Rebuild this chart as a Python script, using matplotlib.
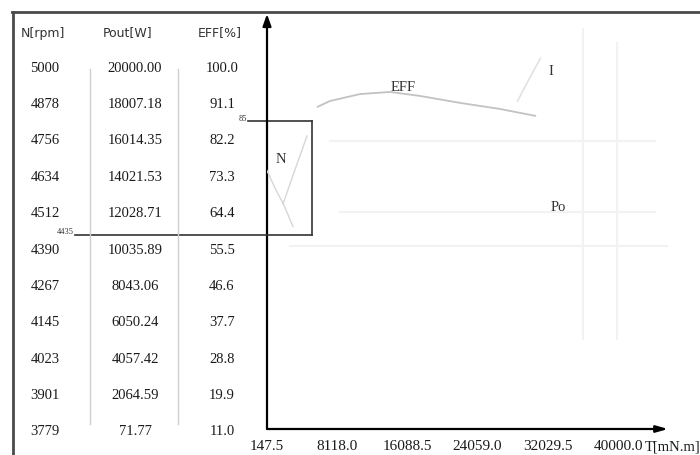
import numpy as np
import matplotlib
matplotlib.use("Agg")
import matplotlib.pyplot as plt
from matplotlib.lines import Line2D

W, H = 700, 456

# table data
headers = ["N[rpm]", "Pout[W]", "EFF[%]"]
n_rpm = [5000, 4878, 4756, 4634, 4512, 4390, 4267, 4145, 4023, 3901, 3779]
pout_w = [20000.00, 18007.18, 16014.35, 14021.53, 12028.71, 10035.89,
          8043.06, 6050.24, 4057.42, 2064.59, 71.77]
eff_pct = [100.0, 91.1, 82.2, 73.3, 64.4, 55.5, 46.6, 37.7, 28.8, 19.9, 11.0]

# chart data (torque in mN.m)
torque_ticks = [147.5, 8118.0, 16088.5, 24059.0, 32029.5, 40000.0]
eff_torque = [5900, 7300, 10700, 14100, 17500, 22000, 26600, 30600]
eff_curve = [88.9, 90.5, 92.4, 93.0, 91.9, 90.0, 88.3, 86.4]
n_torque = [147.5, 1100, 2100, 3100]
n_curve = [4651, 4590, 4533, 4462]
po_torque = [1964, 3300, 4689]
po_curve = [16265, 18700, 21181]
i_torque = [28600, 30000, 31200]
i_curve = [90.5, 97.0, 102.3]
eff_mark = 85
n_mark = 4435
op_torque = 5257

fx = lambda px: px / W
fy = lambda py: 1 - py / H

fig = plt.figure(figsize=(7, 4.56), dpi=100)
fig.patch.set_facecolor("white")

# frame
fig.add_artist(Line2D([fx(12), 1], [fy(13), fy(13)], color="#4a4a4a", lw=2))
fig.add_artist(Line2D([fx(13), fx(13)], [fy(13), 0], color="#4a4a4a", lw=2))

# table
header_x = [43, 128, 220]
col_x = [45, 135, 222]
for hx, h in zip(header_x, headers):
    fig.text(fx(hx), fy(33), h, ha="center", va="center", fontsize=9,
             family="DejaVu Sans", color="#333333")
for i in range(len(n_rpm)):
    y = fy(68 + i * 36.4)
    fig.text(fx(col_x[0]), y, f"{n_rpm[i]}", ha="center", va="center",
             fontsize=10.5, family="Liberation Serif", color="#1a1a1a")
    fig.text(fx(col_x[1]), y, f"{pout_w[i]:.2f}", ha="center", va="center",
             fontsize=10.5, family="Liberation Serif", color="#1a1a1a")
    fig.text(fx(col_x[2]), y, f"{eff_pct[i]:.1f}", ha="center", va="center",
             fontsize=10.5, family="Liberation Serif", color="#1a1a1a")
for sx in (90, 178):
    fig.add_artist(Line2D([fx(sx), fx(sx)], [fy(70), fy(425)], color="#cfcfcf", lw=1))

# chart axes
px0, px_tick_end, px_end = 267, 618, 668
t_lo, t_hi = torque_ticks[0], torque_ticks[-1]
x_max = t_lo + (t_hi - t_lo) * (px_end - px0) / (px_tick_end - px0)
ax = fig.add_axes([fx(px0), fy(430), (px_end - px0) / W, (430 - 15) / H])
ax.set_xlim(t_lo, x_max)
ax.set_ylim(0, 114.5)
for s in ax.spines.values():
    s.set_visible(False)
ax.patch.set_alpha(0)
ax.set_yticks([])
ax.set_xticks(torque_ticks, labels=[f"{t:.1f}" for t in torque_ticks])
ax.tick_params(axis="x", length=0, pad=7, labelsize=11, labelcolor="#1a1a1a")
for lab in ax.get_xticklabels():
    lab.set_family("Liberation Serif")
ax.annotate("T[mN.m]", xy=(t_hi, 0), xycoords=("data", "axes fraction"),
            xytext=(27, -17), textcoords="offset pixels", ha="left", va="center",
            fontsize=10.5, family="Liberation Serif", color="#1a1a1a",
            annotation_clip=False)

axN = ax.twinx()
axN.set_ylim(3779, 5180)
axN.axis("off")
axP = ax.twinx()
axP.set_ylim(0, 30000)
axP.axis("off")

# faint background lines
fc = "#f2f2f2"
ax.axhline(79.5, xmin=0.157, xmax=0.968, color=fc, lw=1.5)
ax.axhline(59.9, xmin=0.182, xmax=0.968, color=fc, lw=1.5)
ax.axhline(50.5, xmin=0.057, xmax=1.0, color=fc, lw=1.5)
ax.axvline(36025, ymin=0.217, ymax=0.964, color=fc, lw=1.5)
ax.axvline(39885, ymin=0.217, ymax=0.93, color=fc, lw=1.5)

# curves
ax.plot(eff_torque, eff_curve, color="#c2c2c2", lw=1.3)
ax.plot(i_torque, i_curve, color="#e2e2e2", lw=1.2)
axN.plot(n_torque, n_curve, color="#d6d6d6", lw=1.0)
axP.plot(po_torque, po_curve, color="#d6d6d6", lw=1.0)

# axes with arrows
ax.annotate("", xy=(0, 1), xytext=(0, 0), xycoords="axes fraction",
            arrowprops=dict(arrowstyle="-|>,head_length=0.7,head_width=0.25",
                            color="black", lw=1.6, shrinkA=0, shrinkB=0),
            annotation_clip=False)
ax.annotate("", xy=(1, 0), xytext=(0, 0), xycoords="axes fraction",
            arrowprops=dict(arrowstyle="-|>,head_length=0.7,head_width=0.2",
                            color="black", lw=1.6, shrinkA=0, shrinkB=0),
            annotation_clip=False)

# operating box
box_x = (op_torque - t_lo) / (x_max - t_lo)
ax.axhline(eff_mark, xmin=(248 - px0) / (px_end - px0), xmax=box_x,
           color="#333333", lw=1.2, clip_on=False)
axN.axhline(n_mark, xmin=(75 - px0) / (px_end - px0), xmax=box_x,
            color="#333333", lw=1.2, clip_on=False)
ymin_n = (n_mark - 3779) / (5180 - 3779)
ax.axvline(op_torque, ymin=ymin_n, ymax=eff_mark / 114.5, color="#333333", lw=1.2)
ax.annotate(f"{eff_mark}", xy=(0, eff_mark), xycoords=("axes fraction", "data"),
            xytext=(-20, 3), textcoords="offset pixels", ha="right", va="center",
            fontsize=6, family="Liberation Serif", color="#333333",
            annotation_clip=False)
axN.annotate(f"{n_mark}", xy=(0, n_mark), xycoords=("axes fraction", "data"),
             xytext=(75 - px0 - 1, 0), textcoords="offset pixels", ha="right",
             va="bottom", fontsize=6, family="Liberation Serif", color="#333333",
             annotation_clip=False)

# curve labels
lab_kw = dict(fontsize=10.5, family="Liberation Serif", color="#333333",
              ha="center", va="center")
ax.text(15589, 94.4, "EFF", **lab_kw)
ax.text(32393, 98.8, "I", **lab_kw)
ax.text(33188, 61.5, "Po", **lab_kw)
ax.text(1737, 74.5, "N", **lab_kw)

fig.savefig("out.png", dpi=100)
